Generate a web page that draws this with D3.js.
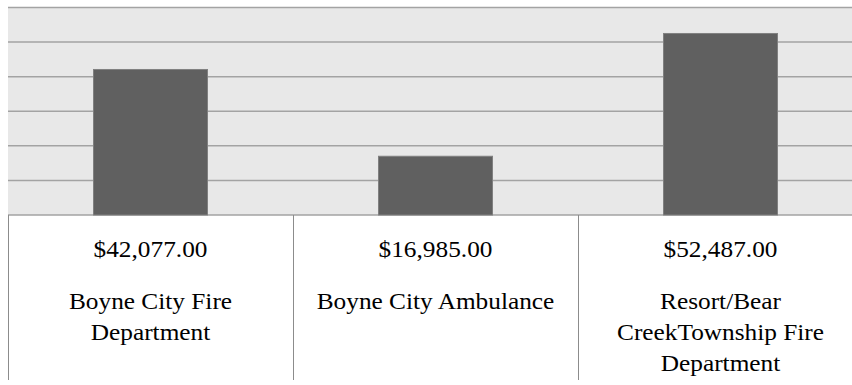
<!DOCTYPE html>
<html>
<head>
<meta charset="utf-8">
<script src="https://cdn.jsdelivr.net/npm/d3@7"></script>
<style>
  body { margin: 0; background: #fff; }
  svg { display: block; }
</style>
</head>
<body>
<div id="chart"></div>
<script>
const categories = ["Boyne City Fire Department", "Boyne City Ambulance", "Resort/Bear CreekTownship Fire Department"];
const values = [42077, 16985, 52487];
const yTicks = [0, 10000, 20000, 30000, 40000, 50000, 60000];

const W = 852, H = 385;
const plot = {left: 8, right: 863, top: 7.5, bottom: 215};
const stretch = 1.055; // table text is a bit wider than the font in the picture

const svg = d3.select("#chart")
  .append("svg")
  .attr("width", W)
  .attr("height", H);

const x = d3.scaleBand()
  .domain(categories)
  .range([plot.left, plot.right])
  .paddingInner(0.6)
  .paddingOuter(0.3);

const cell = d3.scaleBand()
  .domain(categories)
  .range([plot.left, plot.right])
  .padding(0);

const y = d3.scaleLinear()
  .domain([0, 60000])
  .range([plot.bottom, plot.top]);

// plot background
svg.append("rect")
  .attr("x", plot.left)
  .attr("y", plot.top)
  .attr("width", plot.right - plot.left)
  .attr("height", plot.bottom - plot.top)
  .style("fill", "#e8e8e8");

// gridlines
svg.append("g")
  .selectAll("line")
  .data(yTicks)
  .join("line")
  .attr("x1", plot.left)
  .attr("x2", plot.right)
  .attr("y1", d => y(d))
  .attr("y2", d => y(d))
  .style("stroke", "#a3a3a3")
  .style("stroke-width", 1.5);

// bars
svg.append("g")
  .selectAll("rect")
  .data(values)
  .join("rect")
  .attr("x", (d, i) => x(categories[i]))
  .attr("y", d => y(d))
  .attr("width", x.bandwidth())
  .attr("height", d => y(0) - y(d))
  .style("fill", "#606060")
  .style("stroke", "#808080")
  .style("stroke-width", 1);

// data table below the plot
const tbl = svg.append("g");

tbl.selectAll("line.div")
  .data(categories)
  .join("line")
  .attr("class", "div")
  .attr("x1", d => cell(d) + 0.5)
  .attr("x2", d => cell(d) + 0.5)
  .attr("y1", plot.bottom)
  .attr("y2", 380)
  .style("stroke", "#8c8c8c")
  .style("stroke-width", 1);

const fmt = d3.format("$,.2f");

const cols = tbl.selectAll("g.col")
  .data(categories)
  .join("g")
  .attr("class", "col")
  .attr("transform", d => "translate(" + (cell(d) + cell.bandwidth() / 2) + ",0) scale(" + stretch + ",1)");

cols.append("text")
  .attr("font-family", "Liberation Serif")
  .attr("font-size", 24)
  .attr("y", 257)
  .attr("text-anchor", "middle")
  .text((d, i) => fmt(values[i]));

cols.append("text")
  .attr("font-family", "Liberation Serif")
  .attr("font-size", 24)
  .attr("y", 309)
  .attr("text-anchor", "middle")
  .each(function(d) {
    const t = d3.select(this);
    const words = d.split(" ");
    let line = [], lines = [];
    const probe = t.append("tspan");
    words.forEach(w => {
      line.push(w);
      probe.text(line.join(" "));
      if (probe.node().getComputedTextLength() > 245 && line.length > 1) {
        line.pop();
        lines.push(line.join(" "));
        line = [w];
      }
    });
    lines.push(line.join(" "));
    probe.remove();
    lines.forEach((l, i) => {
      t.append("tspan")
        .attr("x", 0)
        .attr("dy", i === 0 ? 0 : 31)
        .text(l);
    });
  });
</script>
</body>
</html>
